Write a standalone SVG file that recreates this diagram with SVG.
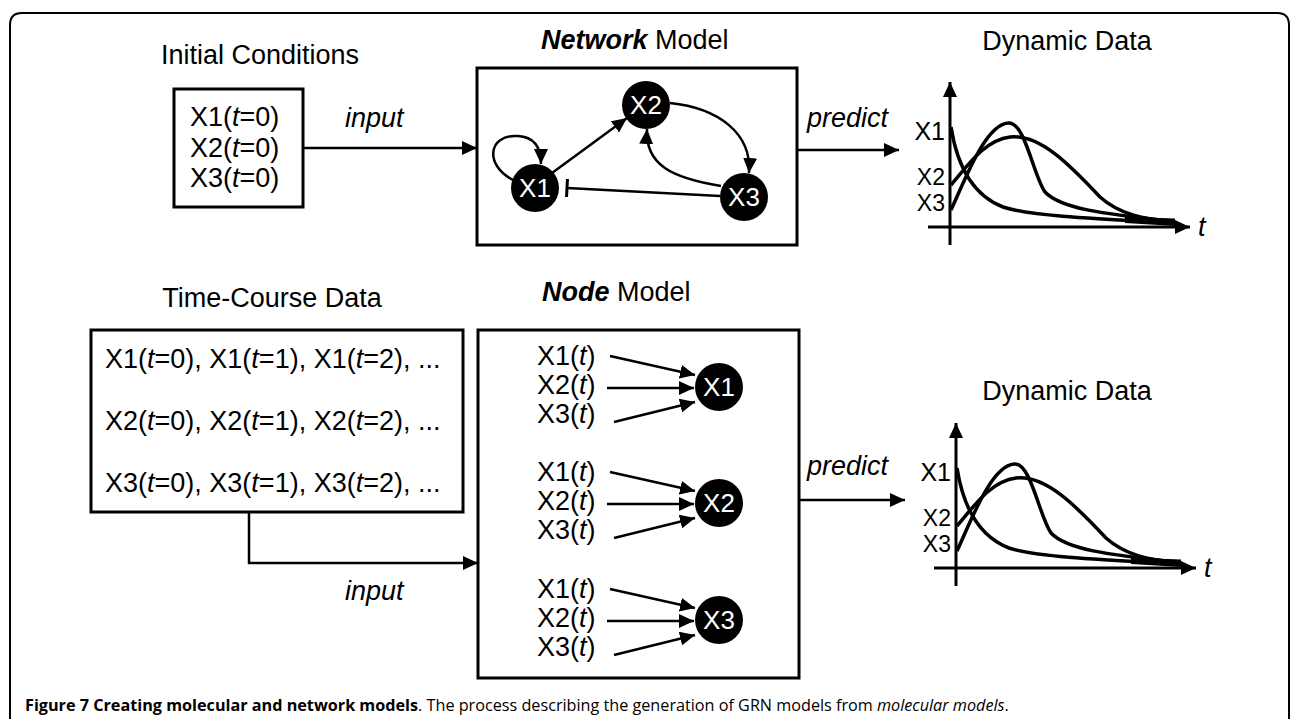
<svg xmlns="http://www.w3.org/2000/svg" width="1290" height="719" viewBox="0 0 1290 719">
<style>
text{font-family:"Liberation Sans",Arial,sans-serif;font-size:27px;fill:#000}
.i{font-style:italic}
.bi{font-weight:bold;font-style:italic}
.mid{text-anchor:middle}
.end{text-anchor:end}
.lab{text-anchor:end;font-size:25px}
.lab2{text-anchor:end;font-size:23px}
.box{fill:#fff;stroke:#000;stroke-width:3}
.c{fill:none;stroke:#000;stroke-width:2.5}
.cv{fill:none;stroke:#000;stroke-width:3.5;stroke-linejoin:round}
.ax{fill:none;stroke:#000;stroke-width:3}
.nd{fill:#000}
.nl{fill:#fff;text-anchor:middle;font-size:26px}
.cap{font-family:"Open Sans","Noto Sans",sans-serif;font-size:16.2px}
.frame{fill:none;stroke:#000;stroke-width:2}
</style>
<defs>
<marker id="ar" markerUnits="userSpaceOnUse" markerWidth="16" markerHeight="14" refX="15" refY="7" orient="auto"><path d="M0,0 L15,7 L0,14 z" fill="#000"/></marker>
<marker id="bar" markerUnits="userSpaceOnUse" markerWidth="4" markerHeight="18" refX="2" refY="9" orient="auto"><path d="M2,0 V18" stroke="#000" stroke-width="3"/></marker>
</defs>

<path class="frame" d="M10,719 V25 Q10,13 22,13 H1277 Q1289,13 1289,25 V719"/>

<!-- Initial conditions -->
<g id="initial">
<text class="mid" x="260" y="64">Initial Conditions</text>
<rect class="box" x="174" y="89" width="129" height="118"/>
<text x="190" y="126">X1(<tspan class="i">t</tspan>=0)</text>
<text x="190" y="157">X2(<tspan class="i">t</tspan>=0)</text>
<text x="190" y="187">X3(<tspan class="i">t</tspan>=0)</text>
</g>

<!-- Network model -->
<g id="network">
<text x="541" y="49"><tspan class="bi">Network</tspan> Model</text>
<rect class="box" x="477" y="68" width="320" height="177"/>
</g>
<g id="net-x1"><circle class="nd" cx="535" cy="188" r="24"/><text class="nl" x="535" y="197">X1</text></g>
<g id="net-x2"><circle class="nd" cx="646" cy="105" r="24"/><text class="nl" x="646" y="114">X2</text></g>
<g id="net-x3"><circle class="nd" cx="744" cy="197" r="24"/><text class="nl" x="744" y="206">X3</text></g>

<!-- Time-course data -->
<g id="timecourse">
<text class="mid" x="272" y="307">Time-Course Data</text>
<rect class="box" x="91" y="330" width="372" height="182"/>
<text x="105" y="368">X1(<tspan class="i">t</tspan>=0), X1(<tspan class="i">t</tspan>=1), X1(<tspan class="i">t</tspan>=2), ...</text>
<text x="105" y="430">X2(<tspan class="i">t</tspan>=0), X2(<tspan class="i">t</tspan>=1), X2(<tspan class="i">t</tspan>=2), ...</text>
<text x="105" y="492">X3(<tspan class="i">t</tspan>=0), X3(<tspan class="i">t</tspan>=1), X3(<tspan class="i">t</tspan>=2), ...</text>
</g>

<!-- Node model -->
<g id="nodemodel">
<text x="542" y="301"><tspan class="bi">Node</tspan> Model</text>
<rect class="box" x="478" y="330" width="321" height="348"/>
</g>
<g id="node-x1">
<text x="537" y="365">X1(<tspan class="i">t</tspan>)</text>
<text x="537" y="394">X2(<tspan class="i">t</tspan>)</text>
<text x="537" y="423">X3(<tspan class="i">t</tspan>)</text>
<circle class="nd" cx="719" cy="387" r="24"/><text class="nl" x="719" y="396">X1</text>
</g>
<g id="node-x2">
<text x="537" y="481">X1(<tspan class="i">t</tspan>)</text>
<text x="537" y="510">X2(<tspan class="i">t</tspan>)</text>
<text x="537" y="539">X3(<tspan class="i">t</tspan>)</text>
<circle class="nd" cx="719" cy="503" r="24"/><text class="nl" x="719" y="512">X2</text>
</g>
<g id="node-x3">
<text x="537" y="598">X1(<tspan class="i">t</tspan>)</text>
<text x="537" y="627">X2(<tspan class="i">t</tspan>)</text>
<text x="537" y="656">X3(<tspan class="i">t</tspan>)</text>
<circle class="nd" cx="719" cy="620" r="24"/><text class="nl" x="719" y="629">X3</text>
</g>

<!-- Dynamic data charts -->
<g id="chart-top">
<text class="mid" x="1067" y="50">Dynamic Data</text>
<path class="ax" d="M950,245 V82" marker-end="url(#ar)"/>
<path class="ax" d="M928,227 H1190" marker-end="url(#ar)"/>
<text class="i" x="1198" y="236">t</text>
<text class="lab" x="945" y="140">X1</text>
<text class="lab2" x="945" y="185">X2</text>
<text class="lab2" x="945" y="211">X3</text>
<path class="cv" d="M951,127 C957,165 972,195 1003,207 C1030,216 1100,219 1173,223"/>
<path class="cv" d="M951,185 C968,165 985,140 1010,137 C1040,134 1070,165 1100,197 C1120,215 1145,219 1173,222"/>
<path class="cv" d="M951,210 C965,180 985,125 1008,123 C1025,121 1033,175 1045,192 C1060,208 1100,214 1173,221"/>
<path d="M1125,217 L1175,218.5 L1175,226 L1125,223 z" fill="#000"/>
</g>
<g id="chart-bottom" transform="translate(6,341)">
<text class="mid" x="1061" y="59">Dynamic Data</text>
<path class="ax" d="M950,245 V82" marker-end="url(#ar)"/>
<path class="ax" d="M928,227 H1190" marker-end="url(#ar)"/>
<text class="i" x="1198" y="236">t</text>
<text class="lab" x="945" y="140">X1</text>
<text class="lab2" x="945" y="185">X2</text>
<text class="lab2" x="945" y="211">X3</text>
<path class="cv" d="M951,127 C957,165 972,195 1003,207 C1030,216 1100,219 1173,223"/>
<path class="cv" d="M951,185 C968,165 985,140 1010,137 C1040,134 1070,165 1100,197 C1120,215 1145,219 1173,222"/>
<path class="cv" d="M951,210 C965,180 985,125 1008,123 C1025,121 1033,175 1045,192 C1060,208 1100,214 1173,221"/>
<path d="M1125,217 L1175,218.5 L1175,226 L1125,223 z" fill="#000"/>
</g>

<!-- Connectors -->
<g id="connectors">
<path class="c" d="M303,148 H477" marker-end="url(#ar)"/>
<text class="i" x="345" y="127">input</text>
<path class="c" d="M797,150 H899" marker-end="url(#ar)"/>
<text class="i" x="807" y="127">predict</text>
<path class="c" d="M249,512 V563 H478" marker-end="url(#ar)"/>
<text class="i" x="345" y="600">input</text>
<path class="c" d="M799,500 H905" marker-end="url(#ar)"/>
<text class="i" x="807" y="475">predict</text>
<path class="c" d="M513,180 C484,165 488,134 518,136 C536,137 541,150 541,164" marker-end="url(#ar)"/>
<path class="c" d="M552,173 L627,118" marker-end="url(#ar)"/>
<path class="c" d="M670,103 C718,108 752,133 749,173" marker-end="url(#ar)"/>
<path class="c" d="M721,186 C672,178 645,165 647,129" marker-end="url(#ar)"/>
<path class="c" d="M720,196 L567,188" marker-end="url(#bar)"/>
<path class="c" d="M610,356 L695,375" marker-end="url(#ar)"/>
<path class="c" d="M607,388 L694,388" marker-end="url(#ar)"/>
<path class="c" d="M614,422 L695,402" marker-end="url(#ar)"/>
<path class="c" d="M610,472 L695,491" marker-end="url(#ar)"/>
<path class="c" d="M607,504 L694,504" marker-end="url(#ar)"/>
<path class="c" d="M614,538 L695,518" marker-end="url(#ar)"/>
<path class="c" d="M610,589 L695,608" marker-end="url(#ar)"/>
<path class="c" d="M607,621 L694,621" marker-end="url(#ar)"/>
<path class="c" d="M614,655 L695,635" marker-end="url(#ar)"/>
</g>

<text class="cap" x="25" y="711"><tspan font-weight="bold">Figure 7 Creating molecular and network models</tspan>. The process describing the generation of GRN models from <tspan font-style="italic">molecular models</tspan>.</text>
</svg>
